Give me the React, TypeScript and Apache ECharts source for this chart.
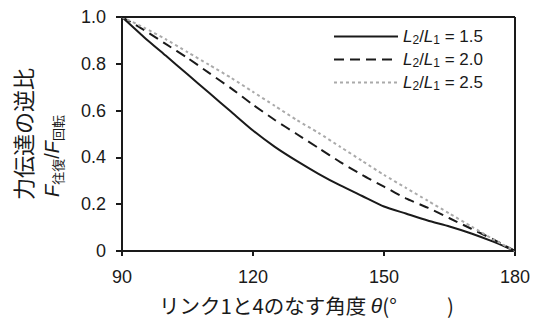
import React, { useEffect, useRef } from "react";
import * as echarts from "echarts";

const theta = [90, 95, 100, 105, 110, 115, 120, 125, 130, 135, 140, 145, 150, 155, 160, 165, 170, 175, 180];
const ratio15 = [1.0, 0.915, 0.835, 0.755, 0.675, 0.595, 0.515, 0.445, 0.385, 0.33, 0.28, 0.235, 0.19, 0.16, 0.13, 0.105, 0.075, 0.04, 0];
const ratio20 = [1.0, 0.945, 0.885, 0.825, 0.76, 0.695, 0.625, 0.56, 0.5, 0.44, 0.38, 0.325, 0.275, 0.225, 0.185, 0.14, 0.095, 0.05, 0];
const ratio25 = [1.0, 0.955, 0.905, 0.85, 0.795, 0.74, 0.68, 0.62, 0.56, 0.505, 0.445, 0.385, 0.325, 0.27, 0.215, 0.16, 0.105, 0.05, 0];
const seriesNames = ["L2/L1 = 1.5", "L2/L1 = 2.0", "L2/L1 = 2.5"];
const legendValues = ["1.5", "2.0", "2.5"];
const xTicks = [90, 120, 150, 180];
const yTickStep = 0.2;

const FONT = "'Liberation Sans', Arial, 'Noto Sans CJK JP', sans-serif";
const CJK = "'Noto Sans CJK JP', 'Liberation Sans', sans-serif";

export default function App() {
  const ref = useRef<HTMLDivElement>(null);
  useEffect(() => {
    if (!ref.current) return;
    const chart = echarts.init(ref.current, undefined, { renderer: "svg" });
    const mk = (arr: number[]) => theta.map((t, i) => [t, arr[i]]);
    const lineBase = {
      type: "line" as const,
      showSymbol: false,
      symbol: "none",
      smooth: 0.2,
    };
    chart.setOption({
      animation: false,
      backgroundColor: "#ffffff",
      textStyle: { fontFamily: FONT },
      grid: { left: 122, right: 19, top: 17, bottom: 69, containLabel: false },
      legend: {
        orient: "vertical",
        left: 328,
        top: 23,
        itemWidth: 64,
        itemHeight: 14,
        itemGap: 5,
        data: seriesNames,
        itemStyle: { opacity: 0 },
        formatter: (name: string) => {
          const i = seriesNames.indexOf(name);
          return `{i|L}{s|2}{n|/}{i|L}{s|1}{n| = ${legendValues[i]}}`;
        },
        textStyle: {
          fontFamily: FONT,
          color: "#1a1a1a",
          rich: {
            i: { fontStyle: "italic", fontSize: 17, fontFamily: FONT, color: "#1a1a1a", lineHeight: 19 },
            s: { fontSize: 12, fontFamily: FONT, color: "#1a1a1a", verticalAlign: "bottom", lineHeight: 12 },
            n: { fontSize: 17, fontFamily: FONT, color: "#1a1a1a", lineHeight: 19 },
          },
        },
      },
      xAxis: {
        type: "value",
        min: 90,
        max: 180,
        interval: 30,
        axisLine: { show: true, lineStyle: { color: "#1a1a1a", width: 2 } },
        axisTick: { show: true, inside: false, length: 5, lineStyle: { color: "#1a1a1a", width: 2 } },
        axisLabel: {
          fontSize: 18,
          color: "#1a1a1a",
          fontFamily: FONT,
          margin: 17,
          formatter: (v: number) => (xTicks.includes(v) ? String(v) : ""),
        },
        splitLine: { show: false },
      },
      yAxis: {
        type: "value",
        min: 0,
        max: 1,
        interval: yTickStep,
        axisLine: { show: true, lineStyle: { color: "#1a1a1a", width: 2 } },
        axisTick: { show: true, inside: false, length: 6, lineStyle: { color: "#1a1a1a", width: 2 } },
        axisLabel: {
          fontSize: 18,
          color: "#1a1a1a",
          fontFamily: FONT,
          margin: 16,
          formatter: (v: number) => (v === 0 ? "0" : v.toFixed(1)),
        },
        splitLine: { show: false },
      },
      graphic: [
        {
          type: "line",
          shape: { x1: 122, y1: 17, x2: 515, y2: 17 },
          style: { stroke: "#1a1a1a", lineWidth: 2 },
          z: 10,
        },
        {
          type: "line",
          shape: { x1: 515, y1: 17, x2: 515, y2: 251 },
          style: { stroke: "#1a1a1a", lineWidth: 2 },
          z: 10,
        },
        {
          type: "text",
          x: 22,
          y: 134,
          rotation: Math.PI / 2,
          style: {
            text: "力伝達の逆比",
            font: `22px ${CJK}`,
            fill: "#1a1a1a",
            align: "center",
            verticalAlign: "middle",
          },
        },
        {
          type: "text",
          x: 52,
          y: 156,
          rotation: Math.PI / 2,
          style: {
            text: "{f|F}{s|往復}{n|/}{f|F}{s|回転}",
            align: "center",
            verticalAlign: "middle",
            fill: "#1a1a1a",
            rich: {
              f: { fontStyle: "italic", fontSize: 20, fontFamily: FONT, fill: "#1a1a1a", lineHeight: 24 },
              n: { fontSize: 20, fontFamily: FONT, fill: "#1a1a1a", lineHeight: 24 },
              s: { fontSize: 13, fontFamily: CJK, fill: "#1a1a1a", verticalAlign: "bottom", lineHeight: 13 },
            },
          },
        },
        {
          type: "text",
          x: 159,
          y: 305,
          style: {
            text: "{c|リンク1と4のなす角度 }{t|θ}{c|(°　　  )}",
            align: "left",
            verticalAlign: "middle",
            fill: "#1a1a1a",
            rich: {
              c: { fontSize: 20.5, fontFamily: CJK, fill: "#1a1a1a" },
              t: { fontSize: 21, fontStyle: "italic", fontFamily: FONT, fill: "#1a1a1a" },
            },
          },
        },
      ],
      series: [
        {
          ...lineBase,
          name: seriesNames[0],
          data: mk(ratio15),
          lineStyle: { color: "#1a1a1a", width: 2, type: "solid" },
          itemStyle: { color: "#1a1a1a" },
        },
        {
          ...lineBase,
          name: seriesNames[1],
          data: mk(ratio20),
          lineStyle: { color: "#1a1a1a", width: 2, type: [10, 6] },
          itemStyle: { color: "#1a1a1a" },
        },
        {
          ...lineBase,
          name: seriesNames[2],
          data: mk(ratio25),
          lineStyle: { color: "#aaaaaa", width: 2, type: [3, 3] },
          itemStyle: { color: "#aaaaaa" },
        },
      ],
    });
    return () => chart.dispose();
  }, []);
  return <div ref={ref} style={{ width: 534, height: 320, position: "absolute", left: 0, top: 0 }} />;
}
